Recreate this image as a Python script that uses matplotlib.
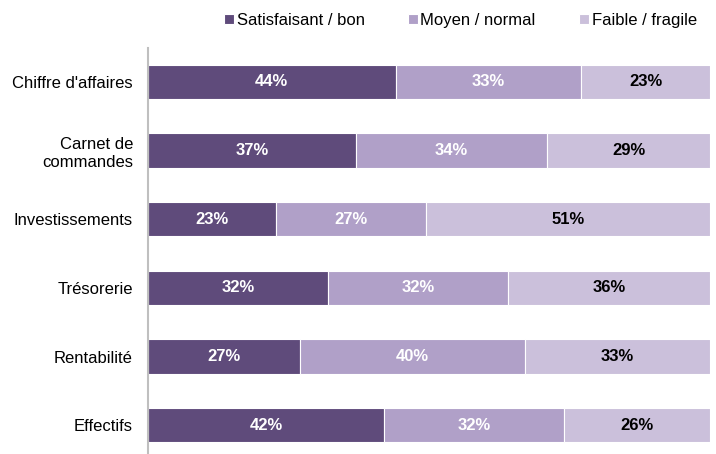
import matplotlib
matplotlib.use("Agg")
import matplotlib.pyplot as plt
import numpy as np

plt.rcParams["font.family"] = ["Liberation Sans", "DejaVu Sans"]

categories = ["Chiffre d'affaires", "Carnet de\ncommandes", "Investissements",
              "Trésorerie", "Rentabilité", "Effectifs"]
series = ["Satisfaisant / bon", "Moyen / normal", "Faible / fragile"]
satisfaisant = [44, 37, 23, 32, 27, 42]
moyen = [33, 34, 27, 32, 40, 32]
faible = [23, 29, 51, 36, 33, 26]

colors = ["#5f4b7b", "#b0a0c8", "#cbc0db"]
text_colors = ["white", "white", "black"]

data = np.array([satisfaisant, moyen, faible], dtype=float)
share = data / data.sum(axis=0)

fig = plt.figure(figsize=(7.16, 4.54), dpi=100)
ax = fig.add_axes([0.207, -0.012, 0.785, 0.907])

y = np.arange(len(categories))
left = np.zeros(len(categories))
for i, name in enumerate(series):
    ax.barh(y, share[i], left=left, height=0.5, color=colors[i],
            edgecolor="white", linewidth=0.8, label=name)
    for j in range(len(categories)):
        ax.text(left[j] + share[i][j] / 2, y[j], f"{int(data[i][j])}%",
                ha="center", va="center", fontsize=12, fontweight="bold",
                color=text_colors[i])
    left += share[i]

ax.set_ylim(len(categories) - 0.5, -0.5)
ax.set_xlim(0, 1)
ax.set_yticks(y)
ax.set_yticklabels(categories, fontsize=12)
ax.tick_params(axis="y", length=0, pad=11)
ax.set_xticks([])
for s in ["top", "right", "bottom"]:
    ax.spines[s].set_visible(False)
ax.spines["left"].set_color("#bfbfbf")
ax.spines["left"].set_linewidth(1.5)

fig.legend(loc="upper center", bbox_to_anchor=(0.643, 1.005), ncol=3,
           frameon=False, fontsize=12, handlelength=0.6, handleheight=0.6,
           handletextpad=0.15, columnspacing=2.6)

fig.savefig("out.png", dpi=100)
